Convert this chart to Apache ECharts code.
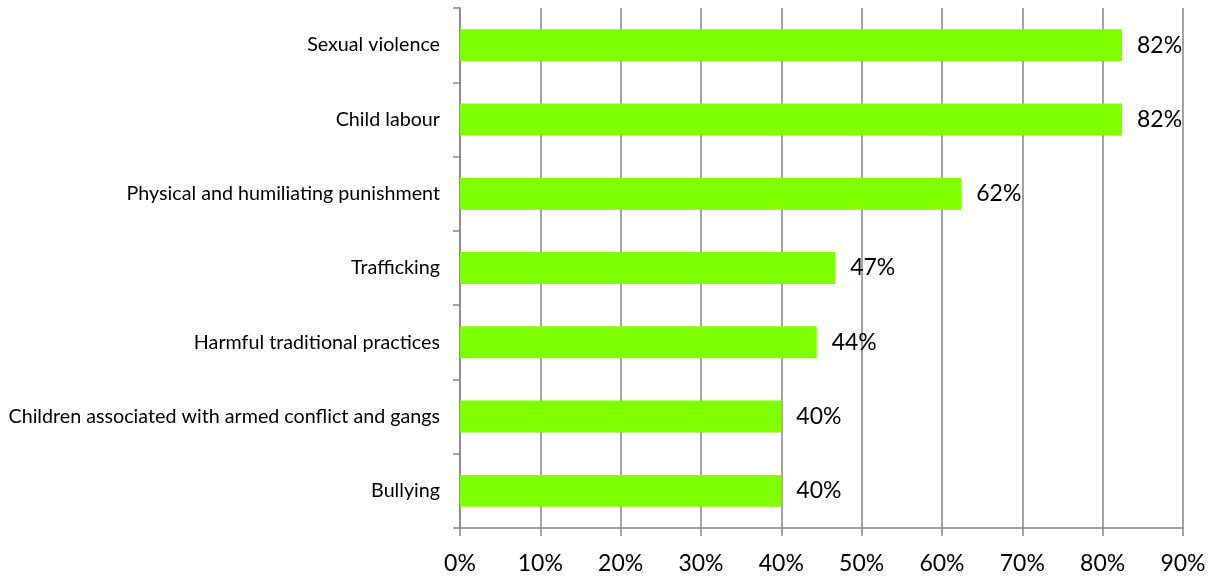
<!DOCTYPE html>
<html>
<head>
<meta charset="utf-8">
<script src="https://cdn.jsdelivr.net/npm/echarts@6/dist/echarts.min.js"></script>
<style>
  html, body { margin: 0; padding: 0; background: #fff; }
  #chart { width: 1214px; height: 578px; }
</style>
</head>
<body>
<div id="chart"></div>
<script>
// Forms of violence, top to bottom
const categories = [
  'Sexual violence',
  'Child labour',
  'Physical and humiliating punishment',
  'Trafficking',
  'Harmful traditional practices',
  'Children associated with armed conflict and gangs',
  'Bullying'
];
// Share of respondents, percent
const shares = [82.4, 82.4, 62.4, 46.7, 44.4, 40.0, 40.0];
// Percent axis ticks
const tickLabels = ['0%', '10%', '20%', '30%', '40%', '50%', '60%', '70%', '80%', '90%'];

const FONT = 'Lato, "Open Sans", sans-serif';
const GRID_GREY = '#868686';

const chart = echarts.init(document.getElementById('chart'), null, { renderer: 'canvas' });
chart.setOption({
  animation: false,
  backgroundColor: '#ffffff',
  grid: { left: 460, right: 31, top: 8, bottom: 50, containLabel: false },
  xAxis: {
    type: 'value',
    min: 0,
    max: 90,
    interval: 10,
    axisLine: { show: true, lineStyle: { color: GRID_GREY, width: 1.5 } },
    axisTick: { show: true, length: 8, lineStyle: { color: GRID_GREY, width: 1.5 } },
    splitLine: { show: true, lineStyle: { color: GRID_GREY, width: 1.5 } },
    axisLabel: {
      margin: 24,
      color: '#000',
      fontFamily: FONT,
      fontSize: 23,
      formatter: (v) => tickLabels[Math.round(v / 10)]
    }
  },
  yAxis: {
    type: 'category',
    data: categories,
    inverse: true,
    axisLine: { show: true, lineStyle: { color: GRID_GREY, width: 1.5 } },
    axisTick: { show: true, length: 7, lineStyle: { color: GRID_GREY, width: 1.5 } },
    axisLabel: {
      margin: 20,
      color: '#000',
      fontFamily: FONT,
      fontSize: 19.7
    }
  },
  series: [{
    type: 'bar',
    data: shares,
    barCategoryGap: '57%',
    itemStyle: { color: '#80ff00' },
    label: {
      show: true,
      position: 'right',
      distance: 15,
      color: '#000',
      fontFamily: FONT,
      fontSize: 23,
      formatter: (p) => Math.round(p.value) + '%'
    }
  }]
});
</script>
</body>
</html>
